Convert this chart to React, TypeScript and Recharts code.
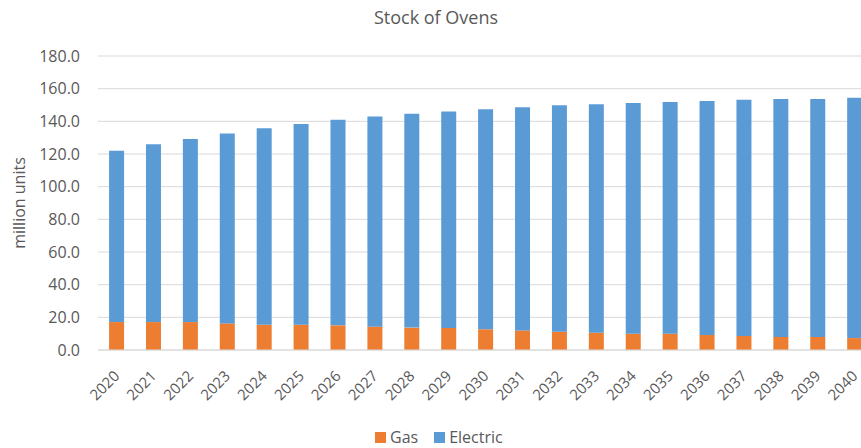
import { Bar, BarChart, CartesianGrid, XAxis, YAxis } from "recharts"

const years = [
  "2020", "2021", "2022", "2023", "2024", "2025", "2026", "2027", "2028", "2029", "2030",
  "2031", "2032", "2033", "2034", "2035", "2036", "2037", "2038", "2039", "2040",
]
const gas = [
  17.1, 17.1, 17.1, 16.3, 15.5, 15.5, 15.1, 14.3, 13.7, 13.5, 12.7,
  12.0, 11.2, 10.6, 10.0, 10.0, 9.2, 8.6, 8.0, 8.0, 7.3,
]
const electric = [
  104.9, 108.9, 112.1, 116.2, 120.2, 122.9, 125.9, 128.6, 131.0, 132.5, 134.7,
  136.6, 138.6, 139.8, 141.2, 141.8, 143.2, 144.6, 145.6, 145.6, 147.1,
]
const yTicks = [0, 20, 40, 60, 80, 100, 120, 140, 160, 180]
const series = [
  { key: "Gas", color: "#ed7d31" },
  { key: "Electric", color: "#5b9bd5" },
]

const data = years.map((year, i) => ({ year, Gas: gas[i], Electric: electric[i] }))

const GRAY = "#595959"
const FONT = "'Open Sans', sans-serif"

function YearTick(props: any) {
  const { x, y, payload } = props
  return (
    <g transform={`translate(${x + 4},${y + 27})`}>
      <text transform="rotate(-45)" textAnchor="end" fill={GRAY} fontSize={15} fontFamily={FONT}>
        {payload.value}
      </text>
    </g>
  )
}

export default function App() {
  return (
    <div
      style={{
        position: "absolute",
        left: 0,
        top: 0,
        width: 861,
        height: 448,
        overflow: "hidden",
        background: "#fff",
      }}
    >
      <div
        style={{
          position: "absolute",
          top: 5,
          left: 0,
          width: 872,
          textAlign: "center",
          fontSize: 18,
          color: GRAY,
          fontFamily: FONT,
        }}
      >
        Stock of Ovens
      </div>
      <BarChart
        width={880}
        height={448}
        data={data}
        margin={{ top: 56, right: 7, left: 0, bottom: 20 }}
        barCategoryGap="30%"
      >
        <CartesianGrid vertical={false} stroke="#d9d9d9" />
        <XAxis
          dataKey="year"
          height={78}
          interval={0}
          tick={<YearTick />}
          tickLine={false}
          tickSize={0}
          tickMargin={0}
          stroke="#d9d9d9"
        />
        <YAxis
          width={98}
          domain={[0, 180]}
          ticks={yTicks}
          tickFormatter={(v: number) => v.toFixed(1)}
          axisLine={false}
          tickLine={false}
          tickSize={0}
          tickMargin={18}
          tick={{ fill: GRAY, fontSize: 16, fontFamily: FONT }}
          label={{
            value: "million units",
            angle: -90,
            position: "insideLeft",
            offset: 19,
            style: { textAnchor: "middle", fill: GRAY, fontSize: 16, fontFamily: FONT },
          }}
        />
        {series.map((s) => (
          <Bar key={s.key} dataKey={s.key} stackId="a" fill={s.color} isAnimationActive={false} />
        ))}
      </BarChart>
      <div
        style={{
          position: "absolute",
          top: 427,
          left: 375,
          height: 20,
          display: "flex",
          alignItems: "center",
          fontFamily: FONT,
          fontSize: 16,
          color: GRAY,
        }}
      >
        {series.map((s) => (
          <div key={s.key} style={{ display: "flex", alignItems: "center", marginRight: 16 }}>
            <span style={{ width: 11, height: 11, background: s.color, display: "inline-block", marginRight: 4 }} />
            <span>{s.key}</span>
          </div>
        ))}
      </div>
    </div>
  )
}
